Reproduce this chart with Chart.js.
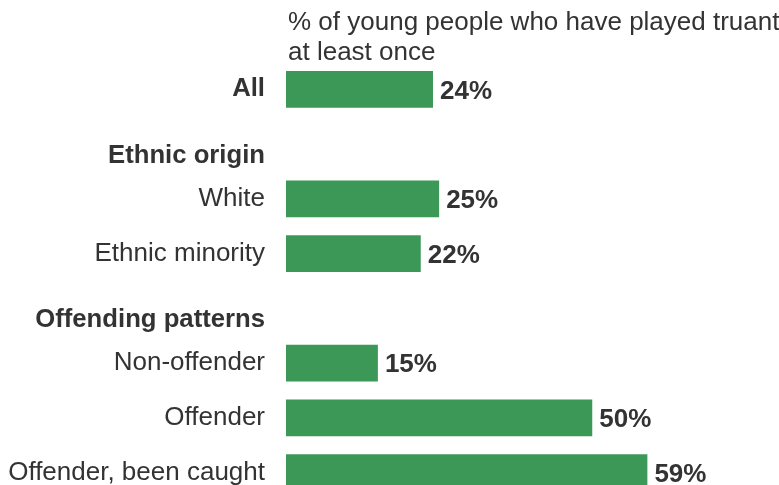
<!DOCTYPE html>
<html lang="en">
<head>
    <meta charset="UTF-8">
    <title>Truancy among young people</title>
    <script src="https://cdn.jsdelivr.net/npm/chart.js"></script>
    <style>
        html, body {
            margin: 0;
            padding: 0;
            background: #ffffff;
            overflow: hidden;
        }
        canvas {
            display: block;
        }
    </style>
</head>
<body>
    <canvas id="truancyChart" width="779" height="510"></canvas>

    <script>
        // group headings get an empty first line so they sit a little lower than their slot
        const categories = [
            'All',
            ['', 'Ethnic origin'],
            'White',
            'Ethnic minority',
            ['', 'Offending patterns'],
            'Non-offender',
            'Offender',
            'Offender, been caught'
        ];
        const truantPct = [24, null, 25, 22, null, 15, 50, 59];
        const boldRows = [0, 1, 4];
        const titleLines = ['% of young people who have played truant', 'at least once'];

        const FONT = "'Liberation Sans', Arial, sans-serif";
        const TEXT = '#333333';
        const GREEN = '#3c9857';

        const titlePlugin = {
            id: 'leftTitle',
            afterDraw(chart) {
                const ctx = chart.ctx;
                ctx.save();
                ctx.fillStyle = TEXT;
                ctx.font = '26px ' + FONT;
                ctx.textAlign = 'left';
                ctx.textBaseline = 'middle';
                titleLines.forEach((line, i) => {
                    ctx.fillText(line, chart.chartArea.left + 2, 23 + i * 30);
                });
                ctx.restore();
            }
        };

        const valueLabels = {
            id: 'valueLabels',
            afterDatasetsDraw(chart) {
                const ctx = chart.ctx;
                const meta = chart.getDatasetMeta(0);
                ctx.save();
                ctx.fillStyle = TEXT;
                ctx.font = 'bold 26px ' + FONT;
                ctx.textAlign = 'left';
                ctx.textBaseline = 'middle';
                meta.data.forEach((bar, i) => {
                    const v = truantPct[i];
                    if (v === null) return;
                    ctx.fillText(v + '%', bar.x + 7, bar.y + 2);
                });
                ctx.restore();
            }
        };

        new Chart(document.getElementById('truancyChart'), {
            type: 'bar',
            data: {
                labels: categories,
                datasets: [{
                    data: truantPct,
                    backgroundColor: GREEN,
                    borderWidth: 0,
                    categoryPercentage: 1,
                    barPercentage: 0.667
                }]
            },
            options: {
                indexAxis: 'y',
                responsive: false,
                animation: false,
                events: [],
                layout: {
                    padding: { top: 62, right: 3, bottom: 10, left: 0 }
                },
                plugins: {
                    legend: { display: false },
                    tooltip: { enabled: false }
                },
                scales: {
                    x: {
                        display: false,
                        min: 0,
                        max: 80
                    },
                    y: {
                        grid: { display: false, drawTicks: false },
                        border: { display: false },
                        afterFit(scale) {
                            // fixed label column; no extra room for label overflow
                            scale.width = 286;
                            scale.paddingTop = 0;
                            scale.paddingBottom = 0;
                        },
                        ticks: {
                            padding: 21,
                            color: TEXT,
                            font: ctx => ({
                                family: FONT,
                                size: boldRows.includes(ctx.index) ? 25.7 : 26,
                                lineHeight: 0.88,
                                weight: boldRows.includes(ctx.index) ? 'bold' : 'normal'
                            })
                        }
                    }
                }
            },
            plugins: [titlePlugin, valueLabels]
        });
    </script>
</body>
</html>
